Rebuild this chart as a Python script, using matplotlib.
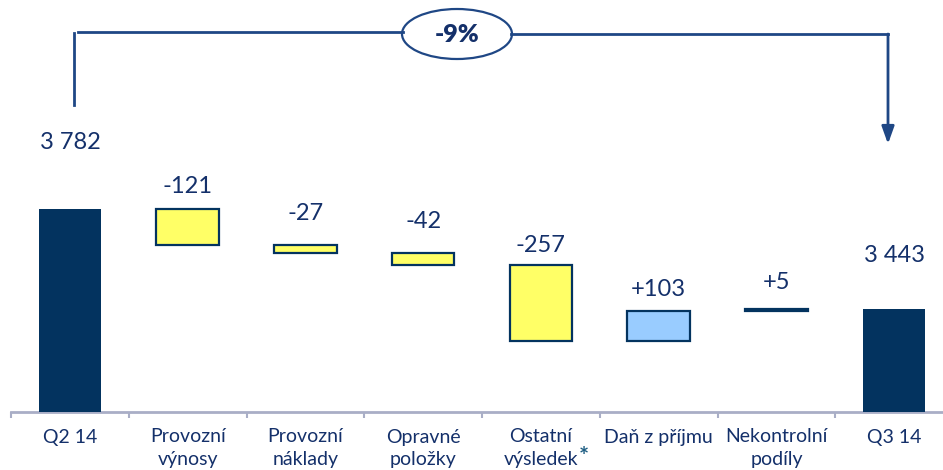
import matplotlib
matplotlib.use("Agg")
import matplotlib.pyplot as plt
from matplotlib.patches import Ellipse, FancyArrowPatch
from matplotlib.lines import Line2D

plt.rcParams['font.family'] = ['Lato', 'DejaVu Sans']

categories = ["Q2 14", "Provozní\nvýnosy", "Provozní\nnáklady", "Opravné\npoložky",
              "Ostatní\nvýsledek", "Daň z příjmu", "Nekontrolní\npodíly", "Q3 14"]
footnote_marks = ["", "", "", "", "*", "", "", ""]
start_total = 3782
changes = [-121, -27, -42, -257, 103, 5]
end_total = 3443
value_labels = ["3 782", "-121", "-27", "-42", "-257", "+103", "+5", "3 443"]
change_pct_label = "-9%"

NAVY = "#03335f"
TEXT = "#14306a"
YELLOW = "#ffff66"
LIGHTBLUE = "#99ccff"
LINE = "#1f4785"

W, H = 943, 470
fig = plt.figure(figsize=(W / 100, H / 100), dpi=100)

base_px = 412
ax = fig.add_axes([11 / W, (H - base_px) / H, 942 / W, base_px / H])
ymin = 3094
per_px = 3.39
ax.set_ylim(ymin, ymin + base_px * per_px)
ax.set_xlim(-0.5, 7.5)

bw = 0.53
bottoms, heights, colors = [], [], []
bottoms.append(ymin); heights.append(start_total - ymin); colors.append(NAVY)
level = start_total
for c in changes:
    new = level + c
    bottoms.append(min(level, new)); heights.append(abs(c))
    if c < 0:
        colors.append(YELLOW)
    elif abs(c) < 10:
        colors.append(NAVY)
    else:
        colors.append(LIGHTBLUE)
    level = new
bottoms.append(ymin); heights.append(end_total - ymin); colors.append(NAVY)

for i, (b, h, col) in enumerate(zip(bottoms, heights, colors)):
    if i in (0, len(categories) - 1):
        ax.bar(i, h, bottom=b, width=bw, color=col, edgecolor='none', zorder=3)
    else:
        ax.bar(i, h, bottom=b, width=bw, color=col, edgecolor=NAVY, linewidth=1.6, zorder=3)

label_offsets_px = [67, 23, 31, 31, 20, 21, 27, 54]
for i, (b, h, lab) in enumerate(zip(bottoms, heights, value_labels)):
    top = b + h
    ax.annotate(lab, (i, top), xytext=(0, label_offsets_px[i] * 0.72),
                textcoords='offset points', ha='center', va='center',
                fontsize=17, color=TEXT)

for s in ['top', 'right', 'left']:
    ax.spines[s].set_visible(False)
ax.spines['bottom'].set_color('#a9aec6')
ax.spines['bottom'].set_linewidth(2)
ax.set_yticks([])
ax.set_xticks([i - 0.5 for i in range(len(categories) + 1)])
ax.set_xticklabels([])
ax.tick_params(axis='x', length=4, width=1.5, color='#a9aec6', direction='out')
for i, cat in enumerate(categories):
    lines = cat.split("\n")
    for j, ln in enumerate(lines):
        t = ax.annotate(ln, (i, ymin), xytext=(0, -(437 - base_px + 23 * j) * 0.72),
                        textcoords='offset points', ha='center', va='center',
                        fontsize=14, color=TEXT, annotation_clip=False)
    if footnote_marks[i]:
        fig.canvas.draw()
        bb = t.get_window_extent()
        fig.text(bb.x1 / W + 1 / W, (bb.y0 + bb.y1) / 2 / H + 3 / H, footnote_marks[i],
                 ha='left', va='center', fontsize=17, color='#1d5d82', fontweight='bold')

def fx(x): return x / W
def fy(y): return 1 - y / H

fig.add_artist(Line2D([fx(74), fx(74)], [fy(33), fy(105)], color=LINE, lw=2))
fig.add_artist(Line2D([fx(78), fx(403)], [fy(32), fy(32)], color=LINE, lw=2))
fig.add_artist(Line2D([fx(511), fx(888)], [fy(34), fy(34)], color=LINE, lw=2))
fig.add_artist(FancyArrowPatch((fx(888), fy(34)), (fx(888), fy(144)),
                               transform=fig.transFigure,
                               arrowstyle='-|>,head_length=1.4,head_width=0.5',
                               mutation_scale=7.5, color=LINE, lw=2,
                               shrinkA=0, shrinkB=0))
fig.add_artist(Ellipse((fx(457), fy(34)), 110 / W, 50 / H, transform=fig.transFigure,
                       facecolor='white', edgecolor=LINE, lw=1.6))
fig.text(fx(457), fy(35), change_pct_label, ha='center', va='center',
         fontsize=18, fontweight='heavy', color=TEXT)

fig.savefig("out.png", dpi=100)
